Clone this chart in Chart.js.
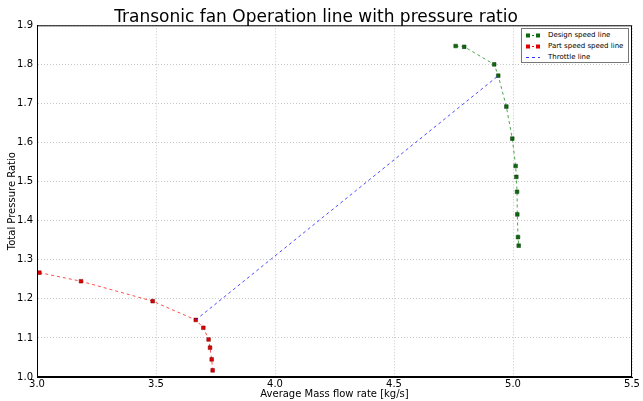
<!DOCTYPE html>
<html>
<head>
<meta charset="utf-8">
<script src="https://cdn.jsdelivr.net/npm/chart.js@4.4.1/dist/chart.umd.min.js"></script>
<style>
  html, body { margin: 0; padding: 0; background: #fff; }
  #wrap { position: relative; width: 643px; height: 401px; }
  #legend {
    position: absolute; left: 521px; top: 28px; width: 108px; height: 35px;
    border: 1px solid #777; background: #fff;
    font: 7px "DejaVu Sans", sans-serif; color: #000;
    padding: 1px 0; box-sizing: border-box;
  }
  #legend .row { height: 11px; line-height: 11px; white-space: nowrap; }
  #legend svg { display: inline-block; width: 16px; height: 11px; margin: 0 7px 0 3px; vertical-align: top; }
</style>
</head>
<body>
<div id="wrap">
  <canvas id="chart" width="643" height="401"></canvas>
  <div id="legend">
    <div class="row"><svg viewBox="0 0 16 11"><line x1="3" y1="5.5" x2="13" y2="5.5" stroke="#008000" stroke-width="1.2" stroke-dasharray="2 2"/><rect x="1" y="3.5" width="4" height="4" fill="#0b6a0b"/><rect x="11" y="3.5" width="4" height="4" fill="#0b6a0b"/></svg>Design speed line</div>
    <div class="row"><svg viewBox="0 0 16 11"><line x1="3" y1="5.5" x2="13" y2="5.5" stroke="#ff0000" stroke-width="1.2" stroke-dasharray="2 2"/><rect x="1" y="3.5" width="4" height="4" fill="#e00000"/><rect x="11" y="3.5" width="4" height="4" fill="#e00000"/></svg>Part speed speed line</div>
    <div class="row"><svg viewBox="0 0 16 11"><line x1="1" y1="5.5" x2="15" y2="5.5" stroke="#3030ff" stroke-width="1.2" stroke-dasharray="3 3"/></svg>Throttle line</div>
  </div>
</div>
<script>
// ── Data ───────────────────────────────────────────────────
const designFlow = [4.759, 4.795, 4.921, 4.938, 4.972, 4.997, 5.011, 5.014, 5.017, 5.018, 5.021, 5.024];
const designPR   = [1.847, 1.845, 1.800, 1.771, 1.692, 1.610, 1.540, 1.512, 1.474, 1.416, 1.358, 1.336];

const partFlow = [3.010, 3.185, 3.486, 3.667, 3.699, 3.721, 3.727, 3.734, 3.738];
const partPR   = [1.267, 1.245, 1.194, 1.146, 1.126, 1.096, 1.075, 1.045, 1.017];

const throttleFlow = [3.667, 4.938];
const throttlePR   = [1.146, 1.771];

const xTicks = [3.0, 3.5, 4.0, 4.5, 5.0, 5.5];
const yTicks = [1.0, 1.1, 1.2, 1.3, 1.4, 1.5, 1.6, 1.7, 1.8, 1.9];

const toPoints = ( xs, ys ) => xs.map( ( x, i ) => ( { x: x, y: ys[ i ] } ) );

const font = '"DejaVu Sans", sans-serif';

new Chart( document.getElementById( 'chart' ), {
  type: 'scatter',
  data: {
    datasets: [
      {
        label: 'Throttle line',
        data: toPoints( throttleFlow, throttlePR ),
        showLine: true,
        borderColor: 'rgba(0,0,255,0.7)',
        borderWidth: 1,
        borderDash: [3, 3],
        pointRadius: 0,
      },
      {
        label: 'Design speed line',
        data: toPoints( designFlow, designPR ),
        showLine: true,
        borderColor: 'rgba(0,128,0,0.7)',
        borderWidth: 1,
        borderDash: [3, 3],
        pointStyle: 'rect',
        pointRadius: 2.6,
        pointBackgroundColor: '#0b6a0b',
        pointBorderColor: '#123812',
        pointBorderWidth: 0.5,
      },
      {
        label: 'Part speed speed line',
        data: toPoints( partFlow, partPR ),
        showLine: true,
        borderColor: 'rgba(255,0,0,0.7)',
        borderWidth: 1,
        borderDash: [3, 3],
        pointStyle: 'rect',
        pointRadius: 2.6,
        pointBackgroundColor: '#e00000',
        pointBorderColor: '#700000',
        pointBorderWidth: 0.5,
      },
    ],
  },
  options: {
    responsive: false,
    animation: false,
    layout: { padding: { left: 0, right: 11, top: 0, bottom: 0 } },
    plugins: {
      legend: { display: false },
      tooltip: { enabled: false },
      title: {
        display: true,
        text: 'Transonic fan Operation line with pressure ratio',
        color: '#000',
        font: { family: font, size: 17, weight: 'normal', lineHeight: 0.9 },
        padding: { top: 10, bottom: 0 },
      },
    },
    scales: {
      x: {
        type: 'linear',
        min: 3.0,
        max: 5.5,
        afterBuildTicks: ( s ) => { s.ticks = xTicks.map( ( v ) => ( { value: v } ) ); },
        afterFit: ( s ) => { s.height = 24; },
        grid: { color: '#c8c8c8', drawTicks: false },
        border: { color: '#000', width: 1, dash: [1, 2] },
        ticks: {
          color: '#000',
          padding: 1,
          font: { family: font, size: 10 },
          callback: ( v ) => v.toFixed( 1 ),
        },
        title: {
          display: true,
          text: 'Average Mass flow rate [kg/s]',
          color: '#000',
          font: { family: font, size: 10 },
          padding: { top: 0, bottom: 1 },
        },
      },
      y: {
        type: 'linear',
        min: 1.0,
        max: 1.9,
        afterBuildTicks: ( s ) => { s.ticks = yTicks.map( ( v ) => ( { value: v } ) ); },
        afterFit: ( s ) => { s.width = 37; },
        grid: { color: '#c8c8c8', drawTicks: false },
        border: { color: '#000', width: 1, dash: [1, 2] },
        ticks: {
          color: '#000',
          padding: 4,
          font: { family: font, size: 10 },
          callback: ( v ) => v.toFixed( 1 ),
        },
        title: {
          display: true,
          text: 'Total Pressure Ratio',
          color: '#000',
          font: { family: font, size: 10 },
          padding: { top: 6, bottom: 0 },
        },
      },
    },
  },
  plugins: [ {
    id: 'frame',
    afterDraw( chart ) {
      const { ctx, chartArea: a } = chart;
      ctx.save();
      ctx.strokeStyle = '#000';
      ctx.lineWidth = 1;
      ctx.setLineDash( [] );
      ctx.strokeRect( a.left + 0.5, a.top + 0.5, a.right - a.left - 1, a.bottom - a.top - 1 );
      ctx.restore();
    },
  } ],
} );
</script>
</body>
</html>
